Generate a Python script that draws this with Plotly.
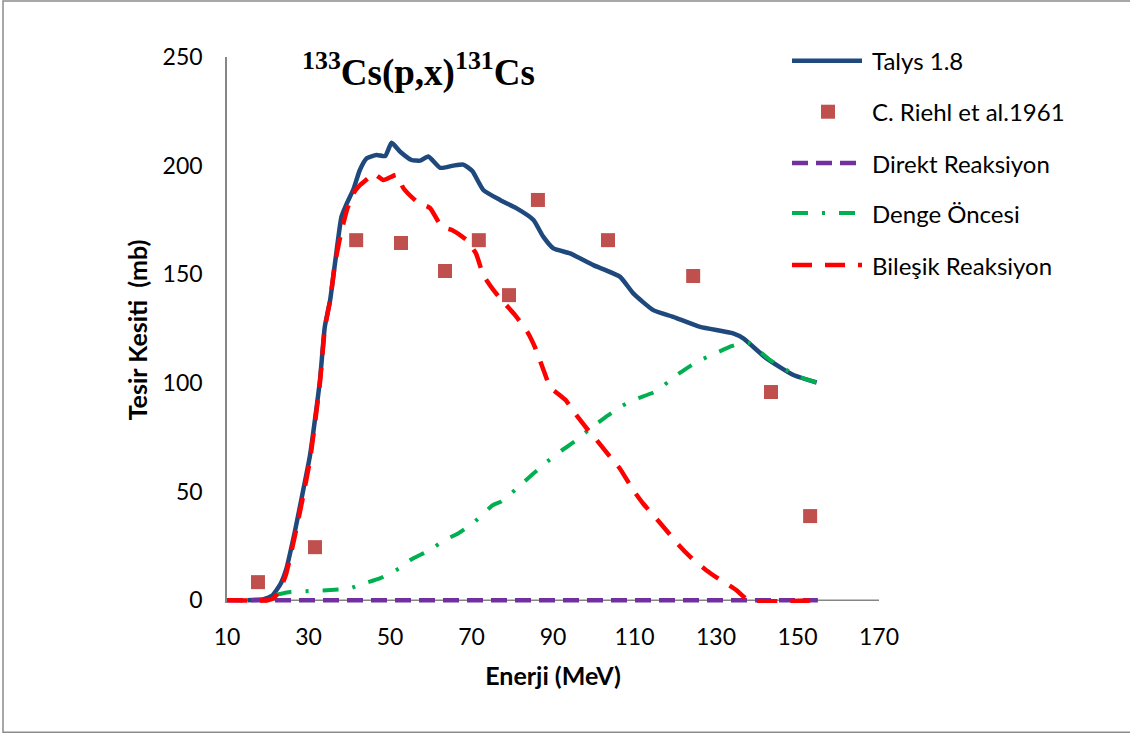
import plotly.graph_objects as go

# ---------------- data ----------------
talys_x = [15, 19, 21, 23, 24.5, 26.7, 28.7, 30.4, 32.8, 34, 35.3, 36.5, 38.1, 39.4, 41, 42.6, 44.3,
           46.7, 48.8, 50.4, 52.5, 55.3, 57.4, 59.4, 62.3, 65.5, 68, 70.2, 72.9, 77, 81.1, 85.2,
           87.6, 90.1, 94.2, 99.9, 106.4, 109.7, 114.6, 119.5, 126.1, 134.2, 136.7, 142.4, 149, 154.7]
talys_y = [0, 0.5, 2, 7, 14, 32, 50.6, 67, 101, 125.8, 138, 155, 176.5, 182.6, 189, 198, 203.4,
           204.9, 204.4, 210.5, 206.4, 202.6, 202.3, 204.2, 199, 200, 200.5, 197.5, 188.8, 184.2, 180.3, 175,
           167.3, 161.9, 159.6, 154.2, 148.9, 141.2, 133.5, 130.4, 125.8, 122.8, 120.5, 111.3, 103.6, 100.2]

exp_x = [17.6, 31.6, 41.7, 52.7, 63.5, 71.8, 79.2, 86.3, 103.5, 124.4, 143.5, 153.1]
exp_y = [8.3, 24.4, 165.7, 164.4, 151.5, 165.7, 140.4, 184.2, 165.7, 149.2, 95.8, 38.7]

direct_x = [10, 30, 50, 70, 90, 110, 130, 155]
direct_y = [0, 0, 0, 0, 0, 0, 0, 0]

preeq_x = [22, 25.5, 28.9, 34.5, 40.2, 43, 47.5, 52.6, 54.9, 60, 63.3, 66.7, 70.7, 75.2, 77.4, 81.1,
           85.2, 88, 92, 95.8, 98.7, 102.5, 106.9, 110.1, 115, 118.3, 121.2, 125.3, 130.2, 133.8,
           136.5, 138.2, 143.3, 149.8, 154.7]
preeq_y = [2.5, 3.8, 4.1, 4.6, 5.4, 7.4, 10, 15, 18.4, 23.3, 27.6, 30.7, 36, 43.7, 45.5, 51.4,
           58.3, 62.9, 68.7, 73.7, 78.3, 83.7, 89.3, 92.4, 95.9, 100.5, 104.7, 109.7, 113.9, 116.9,
           118.5, 118.3, 110.5, 103.3, 100.2]

comp_x = [10, 20, 21.5, 23, 24.5, 26.7, 28.7, 30.4, 32.8, 34, 35.3, 36.5, 38.1, 39.5, 41, 42.6, 44.5,
          45.9, 48.4, 51.6, 53.3, 56.6, 59.8, 62.7, 65.3, 68.8, 71.1, 72.9, 75.4, 77.8, 80.7, 83.7,
          85.6, 87.6, 89.3, 93.1, 95.1, 98.3, 100.7, 104, 106.4, 109.7, 112.1, 116.4, 120.9, 123.7,
          127.6, 130.5, 135, 138, 155]
comp_y = [0, 0, 1, 5, 12, 30, 48, 65, 100, 125, 138, 155, 170, 180, 187.2, 191, 194,
          196.4, 193.4, 195.7, 189.6, 183.4, 180.5, 171.9, 170.3, 165.7, 159.6, 149.6, 142.7, 137.3, 131.2, 123.5,
          116.3, 106.3, 98.2, 92.1, 86.7, 79, 73.7, 66, 60.6, 50.6, 44.5, 35.3, 25.3, 19.9,
          13.8, 10, 4.6, 0, 0]

x_ticks = [10, 30, 50, 70, 90, 110, 130, 150, 170]
y_ticks = [0, 50, 100, 150, 200, 250]

legend_names = ["Talys 1.8", "C. Riehl et al.1961", "Direkt Reaksiyon", "Denge Öncesi", "Bileşik Reaksiyon"]

# ---------------- styles ----------------
BLUE = "#1F497D"
EXPC = "#C0504D"
PURPLE = "#7030A0"
GREEN = "#00B050"
RED = "#FF0000"
DASH_PURPLE = "16px,8px"
DASH_GREEN = "16px,14px,3px,14px"
DASH_RED = "20px,13px"
FONT = "Lato"

fig = go.Figure()
fig.add_trace(go.Scatter(x=talys_x, y=talys_y, mode="lines", name=legend_names[0],
                         line=dict(color=BLUE, width=4.5, shape="spline", smoothing=0.5)))
fig.add_trace(go.Scatter(x=exp_x, y=exp_y, mode="markers", name=legend_names[1],
                         marker=dict(symbol="square", size=14, color=EXPC)))
fig.add_trace(go.Scatter(x=direct_x, y=direct_y, mode="lines", name=legend_names[2],
                         line=dict(color=PURPLE, width=4.5, dash=DASH_PURPLE)))
fig.add_trace(go.Scatter(x=preeq_x, y=preeq_y, mode="lines", name=legend_names[3],
                         line=dict(color=GREEN, width=4, dash=DASH_GREEN, shape="spline", smoothing=0.5)))
fig.add_trace(go.Scatter(x=comp_x, y=comp_y, mode="lines", name=legend_names[4],
                         line=dict(color=RED, width=4.5, dash=DASH_RED, shape="spline", smoothing=0.5)))

W, H = 1130, 733
Y_MIN = -1.3                      # small pad so lines lying on zero are not half clipped
X0_PX, X1_PX = 227, 879           # pixel positions of x=10 and x=170
Y0_PX, Y250_PX = 600, 57          # pixel positions of y=0 and y=250
ppu = (Y0_PX - Y250_PX) / 250.0
bottom_px = Y0_PX - Y_MIN * ppu
L, R, T, B = X0_PX, W - X1_PX, Y250_PX, H - bottom_px
pw, ph = X1_PX - X0_PX, bottom_px - Y250_PX


def px(xp):
    return (xp - L) / pw


def py(yp):
    return (bottom_px - yp) / ph


shapes = []
annotations = []
# outer chart border
shapes.append(dict(type="rect", xref="paper", yref="paper", x0=px(3), x1=px(1140), y0=py(732), y1=py(1),
                   line=dict(color="#8C8C8C", width=1.5), fillcolor="rgba(0,0,0,0)", layer="below"))
# x axis baseline at zero
shapes.append(dict(type="line", xref="paper", yref="y", x0=0, x1=1, y0=0, y1=0,
                   line=dict(color="#868686", width=1.5), layer="below"))

# manual legend
rows = [60.7, 111.7, 163, 213, 265]
lx0, lx1, tx = 792, 862, 870
legend_styles = [
    dict(color=BLUE, width=4.5, dash="solid"),
    None,
    dict(color=PURPLE, width=4.5, dash=DASH_PURPLE),
    dict(color=GREEN, width=4, dash=DASH_GREEN),
    dict(color=RED, width=4.5, dash=DASH_RED),
]
for r, st, name in zip(rows, legend_styles, legend_names):
    if st is None:
        shapes.append(dict(type="rect", xref="paper", yref="paper", x0=px(821), x1=px(835),
                           y0=py(r + 7), y1=py(r - 7), fillcolor=EXPC, line=dict(width=0)))
    else:
        shapes.append(dict(type="line", xref="paper", yref="paper", x0=px(lx0), x1=px(lx1),
                           y0=py(r), y1=py(r), line=st))
    annotations.append(dict(xref="paper", yref="paper", x=px(tx), y=py(r), xanchor="left", yanchor="middle",
                            text=name, showarrow=False, font=dict(family=FONT, size=24, color="#000000")))

# chart title
annotations.append(dict(xref="paper", yref="paper", x=px(418), y=py(70), xanchor="center", yanchor="middle",
                        text="<b><sup>133</sup>Cs(p,x)<sup>131</sup>Cs</b>", showarrow=False,
                        font=dict(family="Liberation Serif", size=37, color="#000000")))

fig.update_layout(
    width=W, height=H, autosize=False,
    margin=dict(l=L, r=R, t=T, b=B, pad=0),
    paper_bgcolor="white", plot_bgcolor="white",
    showlegend=False,
    font=dict(family=FONT, size=23, color="#000000"),
    shapes=shapes, annotations=annotations,
    xaxis=dict(range=[10, 170], tickvals=x_ticks, ticktext=[str(v) for v in x_ticks],
               showgrid=False, zeroline=False, showline=False,
               ticks="", ticklabelstandoff=18, tickfont=dict(size=23),
               title=dict(text="<b>Enerji (MeV)</b>", font=dict(family=FONT, size=25), standoff=18)),
    yaxis=dict(range=[Y_MIN, 250], tickvals=y_ticks, ticktext=[str(v) for v in y_ticks],
               showgrid=False, zeroline=False, showline=True, linecolor="#868686", linewidth=1.5,
               ticks="", ticklabelstandoff=18, tickfont=dict(size=23),
               title=dict(text="<b>Tesir Kesiti  (mb)</b>", font=dict(family=FONT, size=25), standoff=8)),
)

fig.write_html("out.html", config={"displayModeBar": False},
               post_script="document.body.style.margin='0';")
